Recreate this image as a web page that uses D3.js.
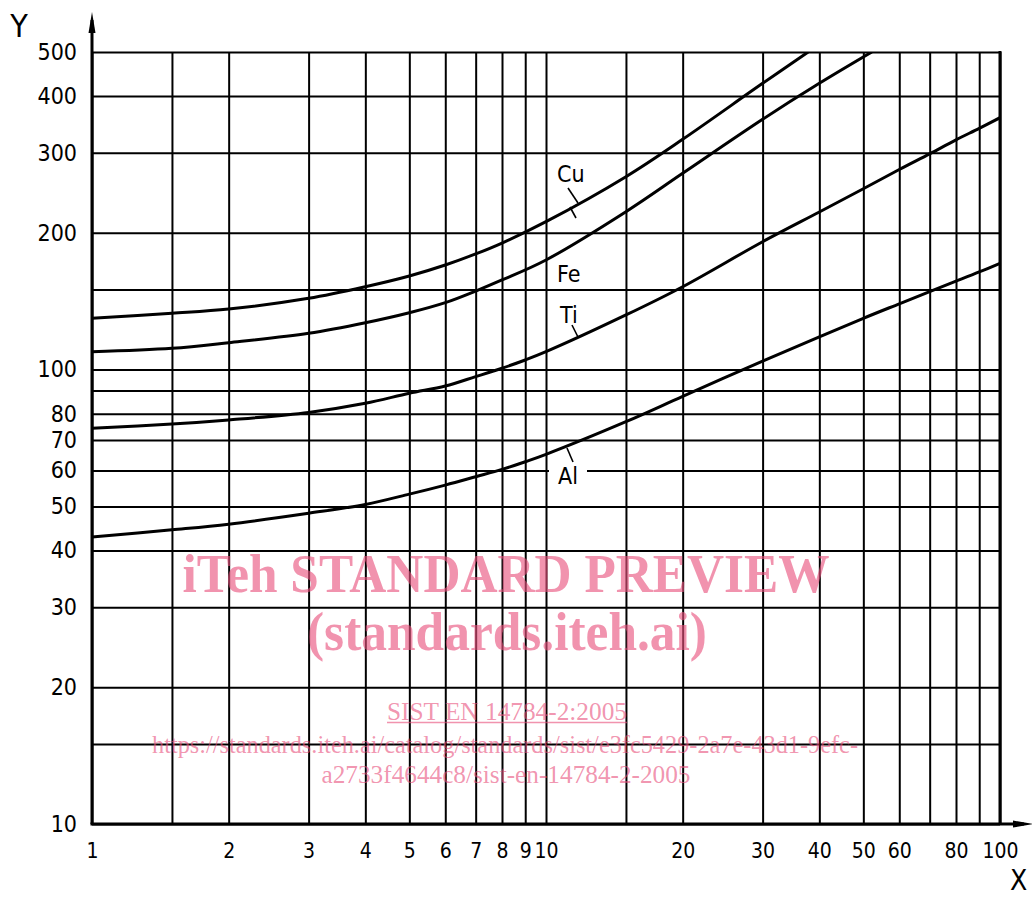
<!DOCTYPE html>
<html lang="en">
<head>
  <meta charset="UTF-8" />
  <title>Log-log curves Cu Fe Ti Al</title>
  <script src="https://d3js.org/d3.v7.min.js"></script>
  <style>
    html, body {
      margin: 0;
      padding: 0;
      background: #fff;
    }
    svg { display: block; }
    .tick text {
      font-family: "DejaVu Sans Condensed", "DejaVu Sans", sans-serif;
      font-stretch: condensed;
      fill: #000;
    }
    .grid line { stroke: #000; stroke-width: 2; }
    .grid .domain { display: none; }
    .curve { fill: none; stroke: #000; stroke-width: 3; }
    .lbl {
      font-family: "DejaVu Sans Condensed", "DejaVu Sans", sans-serif;
      font-stretch: condensed;
    }
    .wm {
      font-family: "Liberation Serif", "Times New Roman", serif;
      fill: rgb(232, 80, 125);
      fill-opacity: 0.62;
    }
  </style>
</head>
<body>
<div id="chart"></div>
<script>
// grid and tick values
const xGrid = [1, 1.5, 2, 3, 4, 5, 6, 7, 8, 9, 10, 15, 20, 30, 40, 50, 60, 70, 80, 90, 100];
const yGrid = [10, 15, 20, 30, 40, 50, 60, 70, 80, 90, 100, 150, 200, 300, 400, 500];
const xTicks = [1, 2, 3, 4, 5, 6, 7, 8, 9, 10, 20, 30, 40, 50, 60, 80, 100];
const yTicks = [10, 20, 30, 40, 50, 60, 70, 80, 100, 200, 300, 400, 500];

// curves: [x, y]
const cu = [[1, 129.7], [1.5, 133.0], [2, 135.9], [3, 143.5], [4, 152.2], [5, 160.7], [6, 169.9],
  [7, 179.7], [8, 189.9], [10, 211.6], [15, 265.8], [20, 321.2], [30, 426.6], [37.8, 500]];
const fe = [[1, 109.5], [1.5, 111.4], [2, 114.6], [3, 120.2], [4, 126.8], [5, 133.4], [6, 140.4],
  [7, 148.9], [8, 157.5], [10, 174.3], [15, 222.6], [20, 270.4], [30, 355.5], [40, 426.6], [52.2, 500]];
const ti = [[1, 74.3], [1.5, 75.9], [2, 77.5], [3, 80.5], [4, 84.3], [5, 88.7], [6, 92.0], [7, 96.5],
  [8, 100.7], [9, 105.0], [10, 109.5], [15, 131.9], [20, 152.2], [30, 191.2], [40, 222.3], [50, 250.0],
  [60, 275.7], [70, 298.5], [80, 320.4], [90, 339.6], [100, 358.4]];
const al = [[1, 42.8], [1.5, 44.4], [2, 45.7], [3, 48.3], [4, 50.5], [5, 53.2], [6, 55.7], [7, 58.1],
  [8, 60.3], [9, 62.7], [10, 65.1], [15, 76.8], [20, 87.3], [30, 104.4], [40, 118.0], [50, 129.7],
  [60, 139.6], [70, 148.5], [80, 156.5], [90, 164.0], [100, 171.4]];

const W = 1032, H = 899;
const svg = d3.select("#chart").append("svg").attr("width", W).attr("height", H);

const x = d3.scaleLog().domain([1, 100]).range([92, 1000]);
const y = d3.scaleLog().domain([10, 500]).range([824, 52]);

// grid
svg.append("g").attr("class", "grid")
  .attr("transform", `translate(0,${y(10)})`)
  .call(d3.axisBottom(x).tickValues(xGrid).tickSize(-(y(10) - y(500))).tickFormat(""));
svg.append("g").attr("class", "grid")
  .attr("transform", `translate(${x(1)},0)`)
  .call(d3.axisLeft(y).tickValues(yGrid).tickSize(-(x(100) - x(1))).tickFormat(""));

// watermark
const wm = svg.append("g");
function wmText(txt, cx, base, size, weight, len) {
  return wm.append("text").attr("class", "wm")
    .attr("x", cx).attr("y", base)
    .attr("text-anchor", "middle")
    .attr("font-size", size).attr("font-weight", weight)
    .attr("textLength", len).attr("lengthAdjust", "spacingAndGlyphs")
    .text(txt);
}
wmText("iTeh STANDARD PREVIEW", 506, 592, 54, "bold", 647);
wmText("(standards.iteh.ai)", 507, 650, 54, "bold", 400);
wmText("SIST EN 14784-2:2005", 507, 720, 25, "normal", 240);
wm.append("line").attr("x1", 387).attr("x2", 627).attr("y1", 722.5).attr("y2", 722.5)
  .attr("stroke", "rgb(232,80,125)").attr("stroke-opacity", 0.62).attr("stroke-width", 1.3);
wmText("https://standards.iteh.ai/catalog/standards/sist/e3fc5429-2a7e-43d1-9efc-", 505, 753, 25, "normal", 706);
wmText("a2733f4644c8/sist-en-14784-2-2005", 506, 783, 25, "normal", 369);

// curves
svg.append("clipPath").attr("id", "plot")
  .append("rect").attr("x", x(1)).attr("y", y(500)).attr("width", x(100) - x(1)).attr("height", y(10) - y(500));
const line = d3.line().x(d => x(d[0])).y(d => y(d[1])).curve(d3.curveCatmullRom.alpha(0.5));
svg.append("g").attr("clip-path", "url(#plot)")
  .selectAll("path").data([cu, fe, ti, al]).join("path")
  .attr("class", "curve").attr("d", line);

// labels with leader lines
const labels = [
  { t: "Cu", tx: 557, ty: 182, l: [568, 188, 578, 203] },
  { t: "Fe", tx: 557, ty: 282, l: [570, 207, 576, 218] },
  { t: "Ti", tx: 560, ty: 323, l: [572, 325, 578, 337] },
  { t: "Al", tx: 558, ty: 484, l: [567, 448, 573, 462] }
];
svg.append("rect").attr("x", 549).attr("y", 463).attr("width", 38).attr("height", 16).attr("fill", "#fff");
labels.forEach(d => {
  svg.append("line").attr("x1", d.l[0]).attr("y1", d.l[1]).attr("x2", d.l[2]).attr("y2", d.l[3])
    .attr("stroke", "#000").attr("stroke-width", 1.6);
  svg.append("text").attr("class", "lbl").attr("x", d.tx).attr("y", d.ty)
    .style("font-size", "23px").text(d.t);
});

// axes with tick labels
const xAxis = svg.append("g").attr("transform", `translate(0,${y(10)})`)
  .call(d3.axisBottom(x).tickValues(xTicks).tickSize(0).tickPadding(19).tickFormat(d3.format("d")));
xAxis.select(".domain").remove();
xAxis.selectAll("text").style("font-size", "21px");

const yAxis = svg.append("g").attr("transform", `translate(${x(1)},0)`)
  .call(d3.axisLeft(y).tickValues(yTicks).tickSize(0).tickPadding(15).tickFormat(d3.format("d")));
yAxis.select(".domain").remove();
yAxis.selectAll("text").style("font-size", "23px");

// axis lines with arrows
svg.append("line").attr("x1", x(1)).attr("y1", y(10)).attr("x2", x(1)).attr("y2", 20)
  .attr("stroke", "#000").attr("stroke-width", 3);
svg.append("path").attr("d", `M${x(1)},12 L${x(1) - 3.5},33 L${x(1) + 3.5},33 Z`).attr("fill", "#000");
svg.append("line").attr("x1", x(1) - 1.5).attr("y1", y(10)).attr("x2", 1024).attr("y2", y(10))
  .attr("stroke", "#000").attr("stroke-width", 3);
svg.append("path").attr("d", `M1033,${y(10)} L1013,${y(10) - 3.5} L1013,${y(10) + 3.5} Z`).attr("fill", "#000");
svg.append("line").attr("x1", x(100)).attr("y1", y(500) - 1).attr("x2", x(100)).attr("y2", y(10))
  .attr("stroke", "#000").attr("stroke-width", 3);

svg.append("text").attr("class", "lbl").attr("x", 19).attr("y", 37)
  .attr("text-anchor", "middle").style("font-size", "32px").text("Y");
svg.append("text").attr("class", "lbl").attr("x", 1010).attr("y", 890)
  .style("font-size", "28px").text("X");
</script>
</body>
</html>
